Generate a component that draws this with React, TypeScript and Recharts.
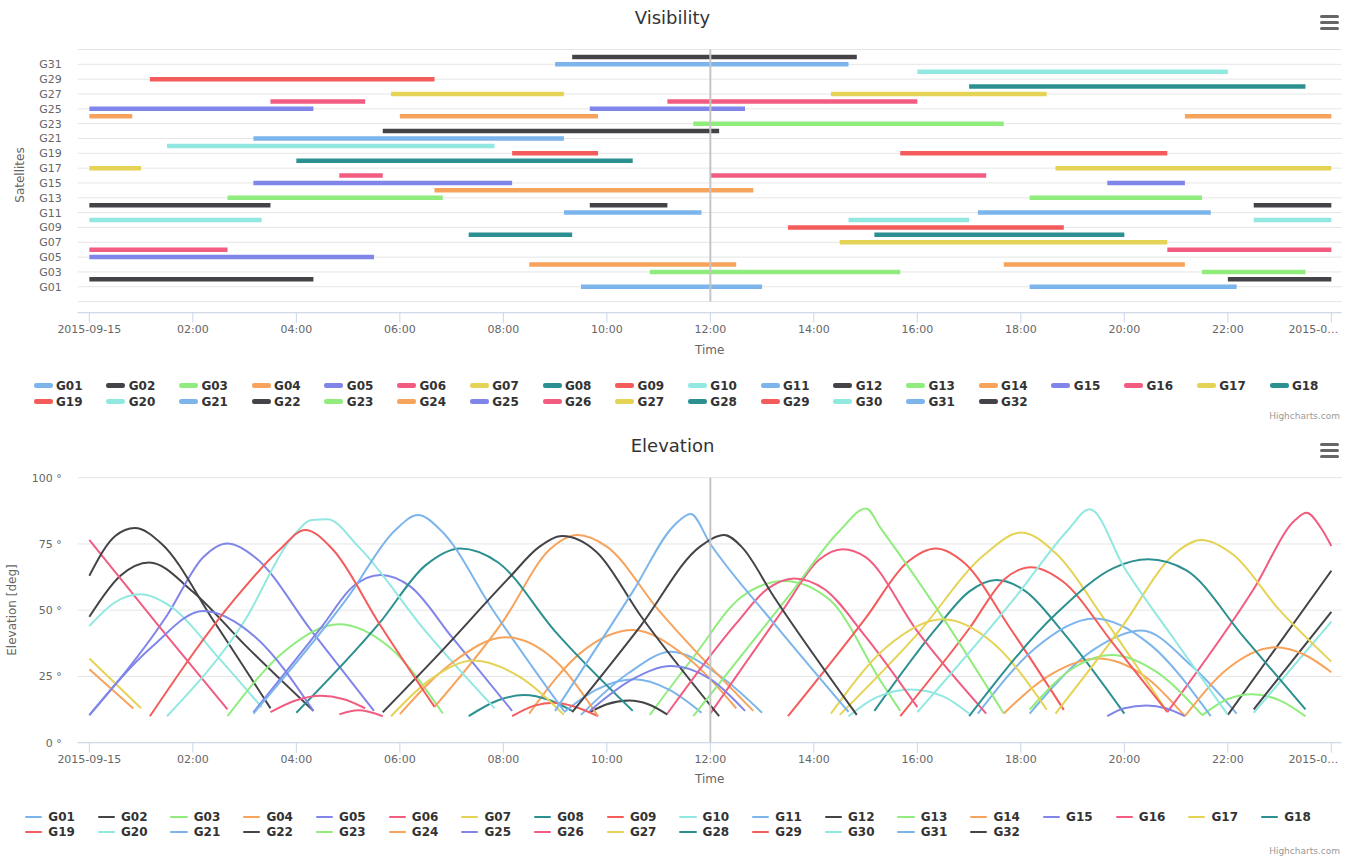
import React from 'react';
import { LineChart, Line, XAxis, YAxis, CartesianGrid, ReferenceLine } from 'recharts';

// ---------- categories / ticks ----------
const satellites = [
  'G01','G02','G03','G04','G05','G06','G07','G08','G09','G10',
  'G11','G12','G13','G14','G15','G16','G17','G18','G19','G20',
  'G21','G22','G23','G24','G25','G26','G27','G28','G29','G30',
  'G31','G32',
];
const palette = ['#7cb5ec','#434348','#90ed7d','#f7a35c','#8085e9','#f15c80','#e4d354','#2b908f','#f45b5b','#91e8e1'];
const timeTicks = [0,2,4,6,8,10,12,14,16,18,20,22,24];
const timeTickLabels = ['2015-09-15','02:00','04:00','06:00','08:00','10:00','12:00','14:00','16:00','18:00','20:00','22:00','2015-0…'];
const satTicks = [-2,0,2,4,6,8,10,12,14,16,18,20,22,24,26,28,30,32];
const elevTicks = [0,25,50,75,100];
const currentTime = 12;

// ---------- visibility windows (hours since 2015-09-15 00:00) ----------
const visG01 = [[9.5,13.0],[18.17,22.17]];
const visG02 = [[0,4.33],[22.0,24]];
const visG03 = [[10.83,15.67],[21.5,23.5]];
const visG04 = [[8.5,12.5],[17.67,21.17]];
const visG05 = [[0,5.5]];
const visG06 = [[0,2.67],[20.83,24]];
const visG07 = [[14.5,20.83]];
const visG08 = [[7.33,9.33],[15.17,20.0]];
const visG09 = [[13.5,18.83]];
const visG10 = [[0,3.33],[14.67,17.0],[22.5,24]];
const visG11 = [[9.17,11.83],[17.17,21.67]];
const visG12 = [[0,3.5],[9.67,11.17],[22.5,24]];
const visG13 = [[2.67,6.83],[18.17,21.5]];
const visG14 = [[6.67,12.83]];
const visG15 = [[3.17,8.17],[19.67,21.17]];
const visG16 = [[4.83,5.67],[12.0,17.33]];
const visG17 = [[0,1.0],[18.67,24]];
const visG18 = [[4.0,10.5]];
const visG19 = [[8.17,9.83],[15.67,20.83]];
const visG20 = [[1.5,7.83]];
const visG21 = [[3.17,9.17]];
const visG22 = [[5.67,12.17]];
const visG23 = [[11.67,17.67]];
const visG24 = [[0,0.83],[6.0,9.83],[21.17,24]];
const visG25 = [[0,4.33],[9.67,12.67]];
const visG26 = [[3.5,5.33],[11.17,16.0]];
const visG27 = [[5.83,9.17],[14.33,18.5]];
const visG28 = [[17.0,23.5]];
const visG29 = [[1.17,6.67]];
const visG30 = [[16.0,22.0]];
const visG31 = [[9.0,14.67]];
const visG32 = [[9.33,14.83]];

// ---------- elevation passes: [hour, degrees] ----------
const elevG01 = [
  [[9.5,10.5],[10.4,26],[11.24,34.3],[12.2,25],[13.0,11.3]],
  [[18.17,11],[19.4,35],[20.33,42.3],[21.3,29],[22.17,11]],
];
const elevG02 = [
  [[0,47.5],[0.6,63],[1.16,68],[2.0,57],[3.0,37],[4.33,12]],
  [[22.0,10.5],[24,64.9]],
];
const elevG03 = [
  [[10.83,10.5],[11.7,33],[12.6,55],[13.43,61],[14.3,54],[15.3,23],[15.67,12]],
  [[21.5,10.3],[22.0,16.5],[22.46,18.3],[23.0,16],[23.5,10]],
];
const elevG04 = [
  [[8.5,11],[9.5,34],[10.5,42.5],[11.5,33],[12.5,13]],
  [[17.67,11],[18.6,26],[19.49,31.8],[20.4,25],[21.17,10]],
];
const elevG05 = [
  [[0,10.4],[1.5,48],[2.2,70],[2.66,75.2],[3.2,70],[4.3,42],[5.5,12]],
];
const elevG06 = [
  [[0,76.5],[1.3,45],[2.67,12.6]],
  [[20.83,11.5],[22.5,58],[23.3,84],[23.52,86.8],[23.8,81],[24,74.2]],
];
const elevG07 = [
  [[14.5,10.5],[16.0,41],[17.3,71],[18.01,79.3],[18.7,71],[19.6,47],[20.83,11.6]],
];
const elevG08 = [
  [[7.33,10],[7.9,16],[8.4,18],[8.9,16],[9.33,12]],
  [[15.17,12],[16.4,44],[17.0,57],[17.53,61.4],[18.1,57],[18.8,42],[20.0,11]],
];
const elevG09 = [
  [[13.5,10],[15.0,47],[15.8,68],[16.36,73.3],[16.9,68],[17.8,43],[18.83,12.4]],
];
const elevG10 = [
  [[0,44],[0.5,53],[0.98,56],[1.6,51],[2.5,32],[3.33,13.4]],
  [[14.67,10],[15.2,17],[15.88,20.1],[16.5,17.5],[17.0,11]],
  [[22.5,11.3],[24,45.7]],
];
const elevG11 = [
  [[9.17,11.5],[9.8,20],[10.53,23.9],[11.2,20],[11.83,11.3]],
  [[17.17,11],[18.3,36],[19.43,46.9],[20.5,37],[21.67,10]],
];
const elevG12 = [
  [[0,63],[0.5,78],[0.88,81],[1.4,75],[2.4,46],[3.5,13]],
  [[9.67,11.5],[10.0,14.5],[10.43,15.9],[10.8,14.5],[11.17,10.6]],
  [[22.5,12.6],[24,49.4]],
];
const elevG13 = [
  [[2.67,10],[3.8,35],[4.82,44.7],[5.8,36],[6.83,11]],
  [[18.17,12.5],[19.0,28],[19.75,33.1],[20.6,27],[21.5,10.5]],
];
const elevG14 = [
  [[6.67,13.5],[8.0,46],[8.9,73],[9.43,78.4],[10.0,74],[11.0,50],[12.83,12]],
];
const elevG15 = [
  [[3.17,11.5],[4.5,44],[5.1,59],[5.63,63.3],[6.2,59],[7.0,40],[8.17,12]],
  [[19.67,10],[20.0,13],[20.43,14],[20.8,13],[21.17,10]],
];
const elevG16 = [
  [[4.83,10.7],[5.2,12.2],[5.67,10]],
  [[12.0,11],[13.4,50],[14.1,69],[14.56,73],[15.0,70],[16.0,42],[17.33,11]],
];
const elevG17 = [
  [[0,31.8],[1.0,13]],
  [[18.67,11],[20.0,45],[20.9,70],[21.49,76.5],[22.1,71],[23.0,50],[24,30.6]],
];
const elevG18 = [
  [[4.0,11.3],[5.6,45],[6.5,67],[7.17,73.3],[7.9,68],[9.0,42],[10.5,12]],
];
const elevG19 = [
  [[8.17,10],[8.6,14],[8.98,15.1],[9.4,13.5],[9.83,10]],
  [[15.67,10],[17.0,43],[17.7,62],[18.2,66.2],[18.8,61],[19.8,37],[20.83,11.6]],
];
const elevG20 = [
  [[1.5,10],[3.0,46],[3.9,77],[4.3,84],[4.6,84.3],[5.2,74],[6.5,42],[7.83,13]],
];
const elevG21 = [
  [[3.17,11],[5.0,55],[5.9,80],[6.35,85.9],[6.8,80],[7.8,50],[9.17,12]],
];
const elevG22 = [
  [[5.67,11.5],[6.78,34],[8.1,62],[8.7,74],[9.14,78],[9.8,72],[10.65,48],[12.17,10]],
];
const elevG23 = [
  [[11.67,10],[13.5,55],[14.5,80],[15.01,88.4],[15.29,81],[16.5,47],[17.67,11]],
];
const elevG24 = [
  [[0,27.7],[0.85,12.9]],
  [[6.0,10.8],[7.0,30],[8.04,39.8],[9.0,31],[9.83,10]],
  [[21.17,10],[22.0,28],[22.91,36],[23.5,33],[24,26.6]],
];
const elevG25 = [
  [[0,10.4],[1.2,36],[2.2,49.7],[3.2,40],[4.33,12]],
  [[9.67,12],[10.5,24],[11.24,28.9],[12.0,24],[12.67,12]],
];
const elevG26 = [
  [[3.5,11.5],[4.0,16],[4.47,17.7],[4.9,16.5],[5.33,13]],
  [[11.17,11],[12.5,45],[13.1,58],[13.62,62],[14.2,58],[15.0,40],[16.0,13.4]],
];
const elevG27 = [
  [[5.83,10],[6.6,24],[7.43,31],[8.3,25],[9.17,10.5]],
  [[14.33,11],[15.4,36],[16.49,46.6],[17.5,37],[18.5,12.5]],
];
const elevG28 = [
  [[17.0,10],[18.7,49],[19.8,66],[20.46,69.2],[21.2,65],[22.3,40],[23.5,12.6]],
];
const elevG29 = [
  [[1.17,10],[2.8,54],[3.67,72.7],[4.17,80.3],[4.7,73],[5.6,45],[6.67,13.5]],
];
const elevG30 = [
  [[16.0,11.5],[17.9,55],[18.9,80],[19.33,88.1],[20.0,66],[21.0,38],[22.0,10.5]],
];
const elevG31 = [
  [[9.0,12],[10.5,57],[11.3,82],[11.62,86.3],[12.0,75],[13.23,45],[14.67,11.6]],
];
const elevG32 = [
  [[9.33,11.5],[10.65,44],[11.8,74],[12.27,78.4],[12.6,74],[13.23,55],[14.83,10.5]],
];

const visibilityPasses = [
  visG01,visG02,visG03,visG04,visG05,visG06,visG07,visG08,visG09,visG10,
  visG11,visG12,visG13,visG14,visG15,visG16,visG17,visG18,visG19,visG20,
  visG21,visG22,visG23,visG24,visG25,visG26,visG27,visG28,visG29,visG30,
  visG31,visG32,
];
const elevationPasses = [
  elevG01,elevG02,elevG03,elevG04,elevG05,elevG06,elevG07,elevG08,elevG09,elevG10,
  elevG11,elevG12,elevG13,elevG14,elevG15,elevG16,elevG17,elevG18,elevG19,elevG20,
  elevG21,elevG22,elevG23,elevG24,elevG25,elevG26,elevG27,elevG28,elevG29,elevG30,
  elevG31,elevG32,
];

// ---------- series tables ----------
type Row = { t: number; v: number | null };

function visibilityRows(idx: number, passes: number[][]): Row[] {
  const rows: Row[] = [];
  passes.forEach((p, k) => {
    if (k > 0) rows.push({ t: (passes[k - 1][1] + p[0]) / 2, v: null });
    rows.push({ t: p[0], v: idx }, { t: p[1], v: idx });
  });
  return rows;
}

function elevationRows(passes: number[][][]): Row[] {
  const rows: Row[] = [];
  passes.forEach((p, k) => {
    if (k > 0) {
      const prev = passes[k - 1];
      rows.push({ t: (prev[prev.length - 1][0] + p[0][0]) / 2, v: null });
    }
    p.forEach(([t, e]) => rows.push({ t, v: e }));
  });
  return rows;
}

const colorOf = (i: number) => palette[i % palette.length];
const FONT = '"DejaVu Sans", "Lucida Grande", Arial, sans-serif';
const X_DOMAIN: [number, number] = [-0.225, 24.2];

function TimeTick(props: any) {
  const { x, y, payload } = props;
  const idx = timeTicks.indexOf(payload.value);
  const label = idx >= 0 ? timeTickLabels[idx] : '';
  const last = payload.value === 24;
  return (
    <text
      x={last ? x + 7 : x}
      y={y}
      dy="0.71em"
      textAnchor={last ? 'end' : 'middle'}
      fill="#666666"
      fontSize={11}
      fontFamily={FONT}
    >
      {label}
    </text>
  );
}

function Hamburger({ top }: { top: number }) {
  return (
    <div style={{ position: 'absolute', left: 1320, top, width: 19 }}>
      {[0, 6, 12].map((o) => (
        <div
          key={o}
          style={{ position: 'absolute', left: 0, top: o, width: 19, height: 3, borderRadius: 1.5, background: '#666' }}
        />
      ))}
    </div>
  );
}

function LegendBlock({ rowY, startX, symW, symH, textDx }: { rowY: number[]; startX: number; symW: number; symH: number; textDx: number }) {
  return (
    <>
      {satellites.map((s, i) => {
        const row = i < 18 ? 0 : 1;
        const col = i < 18 ? i : i - 18;
        const x = startX + col * 72.7;
        const y = rowY[row];
        return (
          <div key={s}>
            <div
              style={{
                position: 'absolute', left: x, top: y - symH / 2, width: symW, height: symH,
                borderRadius: symH / 2, background: colorOf(i),
              }}
            />
            <div
              style={{
                position: 'absolute', left: x + textDx, top: y - 8, height: 16, lineHeight: '16px',
                fontSize: 12, fontWeight: 'bold', color: '#333333', fontFamily: FONT, whiteSpace: 'nowrap',
              }}
            >
              {s}
            </div>
          </div>
        );
      })}
    </>
  );
}

const textAbs = (left: number, top: number, size: number, color: string, extra: React.CSSProperties = {}): React.CSSProperties => ({
  position: 'absolute', left, top, fontSize: size, color, fontFamily: FONT, whiteSpace: 'nowrap', ...extra,
});

export default function App() {
  const visSeries = visibilityPasses.map((p, i) => visibilityRows(i, p));
  const elevSeries = elevationPasses.map((p) => elevationRows(p));

  return (
    <div style={{ position: 'absolute', left: 0, top: 0, width: 1345, height: 859, background: '#ffffff', overflow: 'hidden', fontFamily: FONT }}>
      {/* ---------------- Visibility ---------------- */}
      <div style={{ position: 'absolute', left: 0, top: 0, width: 1345, height: 425, overflow: 'hidden' }}>
        <LineChart width={1345} height={425} margin={{ top: 49.5, right: 3.3, bottom: 82.3, left: 0 }}>
          <CartesianGrid vertical={false} stroke="#e6e6e6" />
          <XAxis
            type="number"
            dataKey="t"
            domain={X_DOMAIN}
            allowDataOverflow
            ticks={timeTicks}
            interval={0}
            height={30}
            tickSize={10}
            tickMargin={2}
            tick={<TimeTick />}
            axisLine={{ stroke: '#ccd6eb' }}
            tickLine={{ stroke: '#ccd6eb' }}
          />
          <YAxis
            type="number"
            domain={[-3.5, 32]}
            allowDataOverflow
            ticks={satTicks}
            interval={0}
            width={77.7}
            axisLine={false}
            tickLine={false}
            tickSize={0}
            tickMargin={16}
            tick={{ fill: '#666666', fontSize: 11, fontFamily: FONT }}
            tickFormatter={(v: number) => (v >= 0 && v <= 30 ? satellites[v] : '')}
          />
          {visSeries.map((rows, i) => (
            <Line
              key={satellites[i]}
              data={rows}
              dataKey="v"
              name={satellites[i]}
              type="linear"
              stroke={colorOf(i)}
              strokeWidth={4.5}
              strokeLinecap="butt"
              dot={false}
              activeDot={false}
              connectNulls={false}
              isAnimationActive={false}
            />
          ))}
          <ReferenceLine
            segment={[{ x: currentTime, y: -2 }, { x: currentTime, y: 32 }]}
            stroke="#c4c4c4"
            strokeWidth={2}
          />
        </LineChart>
        <div style={textAbs(0, 6, 18, '#333333', { width: 1345, textAlign: 'center', lineHeight: '24px' })}>Visibility</div>
        <div style={textAbs(20, 175, 12, '#666666', { transform: 'translate(-50%, -50%) rotate(-90deg)', lineHeight: '14px' })}>Satellites</div>
        <div style={textAbs(709.7, 343, 12, '#666666', { transform: 'translateX(-50%)', lineHeight: '14px' })}>Time</div>
        <Hamburger top={15} />
        <LegendBlock rowY={[385.5, 401.5]} startX={33.6} symW={19} symH={4.5} textDx={22.4} />
        <div style={textAbs(1240, 411, 9, '#999999', { width: 100, textAlign: 'right', lineHeight: '11px' })}>Highcharts.com</div>
      </div>

      {/* ---------------- Elevation ---------------- */}
      <div style={{ position: 'absolute', left: 0, top: 425, width: 1345, height: 434 }}>
        <LineChart width={1345} height={434} margin={{ top: 52.7, right: 3.3, bottom: 86.3, left: 0 }}>
          <CartesianGrid vertical={false} stroke="#e6e6e6" />
          <XAxis
            type="number"
            dataKey="t"
            domain={X_DOMAIN}
            allowDataOverflow
            ticks={timeTicks}
            interval={0}
            height={30}
            tickSize={10}
            tickMargin={2}
            tick={<TimeTick />}
            axisLine={{ stroke: '#ccd6eb' }}
            tickLine={{ stroke: '#ccd6eb' }}
          />
          <YAxis
            type="number"
            domain={[0, 100]}
            ticks={elevTicks}
            interval={0}
            width={77.7}
            axisLine={false}
            tickLine={false}
            tickSize={0}
            tickMargin={16}
            tick={{ fill: '#666666', fontSize: 11, fontFamily: FONT }}
            tickFormatter={(v: number) => `${v} °`}
          />
          {elevSeries.map((rows, i) => (
            <Line
              key={satellites[i]}
              data={rows}
              dataKey="v"
              name={satellites[i]}
              type="monotone"
              stroke={colorOf(i)}
              strokeWidth={2}
              dot={false}
              activeDot={false}
              connectNulls={false}
              isAnimationActive={false}
            />
          ))}
          <ReferenceLine x={currentTime} stroke="#c4c4c4" strokeWidth={2} />
        </LineChart>
        <div style={textAbs(0, 9, 18, '#333333', { width: 1345, textAlign: 'center', lineHeight: '24px' })}>Elevation</div>
        <div style={textAbs(12, 185, 12, '#666666', { transform: 'translate(-50%, -50%) rotate(-90deg)', lineHeight: '14px' })}>Elevation [deg]</div>
        <div style={textAbs(709.7, 347, 12, '#666666', { transform: 'translateX(-50%)', lineHeight: '14px' })}>Time</div>
        <Hamburger top={18} />
        <LegendBlock rowY={[391.7, 406.7]} startX={25} symW={17.3} symH={2} textDx={23.3} />
        <div style={textAbs(1240, 421, 9, '#999999', { width: 100, textAlign: 'right', lineHeight: '11px' })}>Highcharts.com</div>
      </div>
    </div>
  );
}
